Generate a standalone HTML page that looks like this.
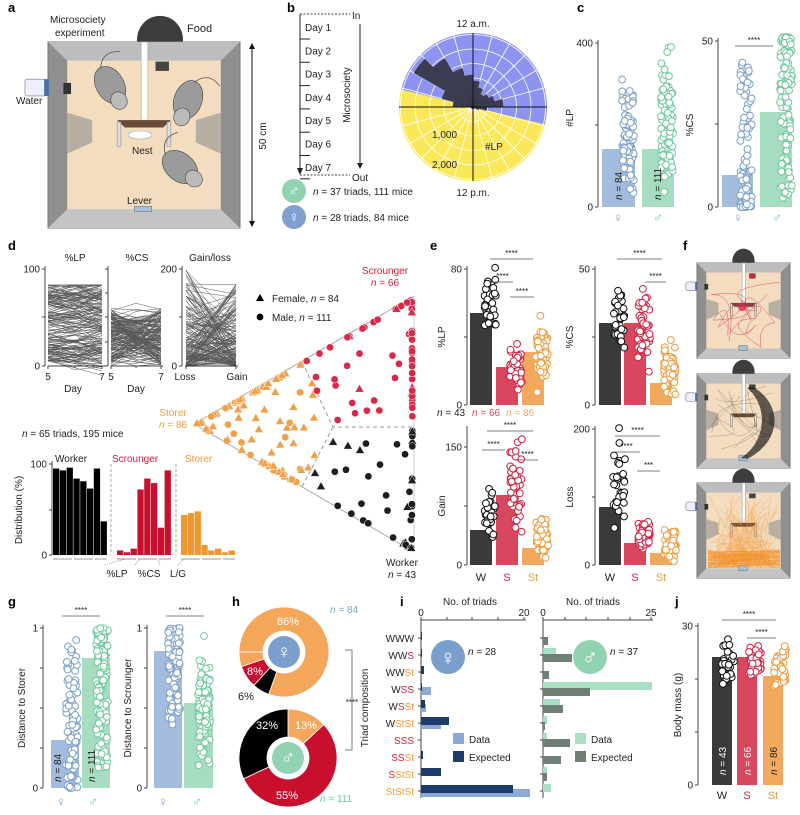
<!DOCTYPE html>
<html><head><meta charset="utf-8"><style>
html,body{margin:0;padding:0;background:#fff;}
svg{display:block;font-family:"Liberation Sans",sans-serif;}
</style></head><body>
<svg id="s" width="800" height="815" viewBox="0 0 800 815">
</svg>
<script>
const S=document.getElementById('s');const NS='http://www.w3.org/2000/svg';
function E(t,a,p){const e=document.createElementNS(NS,t);for(const k in a)e.setAttribute(k,a[k]);(p||S).appendChild(e);return e;}
function T(x,y,s,o){o=o||{};const e=E('text',Object.assign({x:x,y:y,'font-size':o.fs||10,fill:o.c||'#222','text-anchor':o.a||'start'},o.rot?{transform:'rotate('+o.rot+' '+x+' '+y+')'}:{} ,o.fw?{'font-weight':o.fw}:{},o.fi?{'font-style':'italic'}:{}));e.textContent=s;return e;}
function TH(x,y,html,o){o=o||{};const e=E('text',Object.assign({x:x,y:y,'font-size':o.fs||10,fill:o.c||'#222','text-anchor':o.a||'start'},o.rot?{transform:'rotate('+o.rot+' '+x+' '+y+')'}:{}));e.innerHTML=html;return e;}
let seed=7;function R(){seed=(seed*16807)%2147483647;return seed/2147483647;}
function Rn(){return (R()+R()+R())/3;}
function line(x1,y1,x2,y2,c,w,extra){return E('line',Object.assign({x1,y1,x2,y2,stroke:c||'#333','stroke-width':w||1},extra||{}));}
const BL='#7b9fcc',BLb='#a3bbdc',GR='#6fc89c',GRb='#a6dcc0',RD='#d0213f',RDb='#d9475f',OR='#f09a3e',ORb='#f2a95e',BK='#3a3a3a';
[['a',8,12],['b',287,12],['c',577,12],['d',8,250],['e',430,250],['f',683,250],['g',8,606],['h',232,606],['i',400,606],['j',675,606]].forEach(l=>T(l[1],l[2],l[0],{fs:13,fw:'bold',c:'#000'}));

function arena(x,y,w,h,dome,dx){
  dx=dx||0;
  if(dome){E('ellipse',{cx:x+w/2+dx,cy:y-2,rx:w*0.12,ry:h*0.13,fill:'#3d3d3d'});}
  E('rect',{x:x,y:y,width:w,height:h,fill:'#8f8f8f',stroke:'#777','stroke-width':1});
  const i=w*0.1,j=h*0.1;
  E('polygon',{points:`${x},${y} ${x+w},${y} ${x+w-i},${y+j} ${x+i},${y+j}`,fill:'#bdbdbd'});
  E('polygon',{points:`${x},${y+h} ${x+w},${y+h} ${x+w-i},${y+h-j} ${x+i},${y+h-j}`,fill:'#c4c4c4'});
  E('rect',{x:x+i,y:y+j,width:w-2*i,height:h-2*j,fill:'#f3dcbf'});
  E('polygon',{points:`${x+i},${y+h*0.38} ${x+w*0.23},${y+h*0.42} ${x+w*0.23},${y+h*0.54} ${x+i},${y+h*0.6}`,fill:'#a9a29a',opacity:0.8});
  E('polygon',{points:`${x+w-i},${y+h*0.38} ${x+w*0.77},${y+h*0.42} ${x+w*0.77},${y+h*0.54} ${x+w-i},${y+h*0.6}`,fill:'#a9a29a',opacity:0.8});
  E('rect',{x:x+w*0.485,y:y,width:w*0.035,height:h*0.42,fill:'#fff',stroke:'#999','stroke-width':0.5});
  E('rect',{x:x+w*0.56,y:y+j+1,width:w*0.07,height:h*0.05,fill:'#444'});
  E('polygon',{points:`${x+w*0.36},${y+h*0.42} ${x+w*0.64},${y+h*0.42} ${x+w*0.6},${y+h*0.46} ${x+w*0.4},${y+h*0.46}`,fill:'#6b4a3a'});
  E('rect',{x:x+w*0.36,y:y+h*0.43,width:w*0.02,height:h*0.13,fill:'#ddd',stroke:'#666','stroke-width':0.4});
  E('rect',{x:x+w*0.62,y:y+h*0.43,width:w*0.02,height:h*0.13,fill:'#ddd',stroke:'#666','stroke-width':0.4});
  E('rect',{x:x+w*0.45,y:y+h-j-3,width:w*0.09,height:5,fill:'#a9c2d3',stroke:'#667','stroke-width':0.5});
  E('rect',{x:x-w*0.12,y:y+h*0.2,width:w*0.11,height:h*0.09,fill:'#eef',stroke:'#777','stroke-width':0.6,rx:2});
  E('rect',{x:x-w*0.02,y:y+h*0.2,width:w*0.025,height:h*0.09,fill:'#4a6fa8'});
  E('rect',{x:x+w*0.08,y:y+h*0.22,width:w*0.04,height:h*0.06,fill:'#333'});
}
arena(48,42,192,186,true,16);
function mouse(cx,cy,ang){const g=E('g',{transform:`rotate(${ang} ${cx} ${cy})`});E('ellipse',{cx:cx,cy:cy,rx:20,ry:14,fill:'#9b9b9b',stroke:'#444','stroke-width':0.6},g);E('ellipse',{cx:cx-18,cy:cy,rx:9,ry:8,fill:'#bbb',stroke:'#444','stroke-width':0.6},g);E('path',{d:`M${cx+19} ${cy} q15 10 5 25`,fill:'none',stroke:'#555','stroke-width':0.8},g);}
mouse(110,85,-120);mouse(188,100,-70);mouse(180,167,-140);
E('ellipse',{cx:140,cy:135,rx:12,ry:4,fill:'#fff',stroke:'#9ab','stroke-width':0.6});
T(50,23,'Microsociety',{fs:10});T(55,36,'experiment',{fs:10});T(187,32,'Food',{fs:11});T(16,104,'Water',{fs:10});
T(132,154,'Nest',{fs:10});T(127,204,'Lever',{fs:10});
line(252,44,252,226,'#111',1);E('polygon',{points:'249,49 255,49 252,43',fill:'#111'});E('polygon',{points:'249,221 255,221 252,227',fill:'#111'});
T(266,136,'50 cm',{fs:10,a:'middle',rot:-90});
line(300,14,300,172,'#222',1);E('polygon',{points:'297,168 303,168 300,175',fill:'#222'});
line(300,14,350,14,'#444',1,{'stroke-dasharray':'2,1.5'});line(300,175,350,175,'#444',1,{'stroke-dasharray':'2,1.5'});
for(let k=0;k<7;k++){line(300,39+k*23.3,310,39+k*23.3,'#222',1);T(305,31+k*23.3,'Day '+(k+1),{fs:10});}
T(352,19,'In',{fs:10});T(352,181,'Out',{fs:10});
line(360,24,360,166,'#222',1);E('polygon',{points:'357,163 363,163 360,169',fill:'#222'});
T(350,95,'Microsociety',{fs:10,a:'middle',rot:-90});
E('circle',{cx:294,cy:191,r:12,fill:'#8fd3b0'});T(294,196,'♂',{fs:15,c:'#fff',a:'middle'});
E('circle',{cx:294,cy:217,r:12,fill:'#7f9fcf'});T(294,222,'♀',{fs:15,c:'#fff',a:'middle'});
TH(313,195,'<tspan font-style="italic">n</tspan> = 37 triads, 111 mice',{fs:10});
TH(313,221,'<tspan font-style="italic">n</tspan> = 28 triads, 84 mice',{fs:10});
(function(){const cx=473,cy=107,r=74,t=13.7*Math.PI/180;
 E('circle',{cx,cy,r,fill:'#fbe85a'});
 const lx=cx-r*Math.cos(t),ly=cy-r*Math.sin(t),rx=cx+r*Math.cos(t),ry=cy+r*Math.sin(t);
 E('path',{d:`M${lx} ${ly} A${r} ${r} 0 0 1 ${rx} ${ry} Z`,fill:'#8c93f0'});
 for(let k=1;k<=5;k++)E('circle',{cx,cy,r:k*14.5,fill:'none',stroke:'#fff','stroke-width':0.8});
 for(let k=0;k<24;k++){const a=k*15*Math.PI/180;line(cx,cy,cx+r*Math.sin(a),cy-r*Math.cos(a),'#fff',0.8);}
 const L={'-82.5':20,'-67.5':32,'-52.5':68,'-37.5':56,'-22.5':40,'-7.5':32,'7.5':26,'22.5':20,'37.5':15,'52.5':18,'67.5':22,'82.5':30,'97.5':14,'112.5':6};
 for(let k=0;k<24;k++){const c=-172.5+k*15;const l=L[c.toFixed(1)]||2;const a=(c-7.5)*Math.PI/180,b=(c+7.5)*Math.PI/180;
  E('path',{d:`M${cx} ${cy} L${cx+l*Math.sin(a)} ${cy-l*Math.cos(a)} A${l} ${l} 0 0 1 ${cx+l*Math.sin(b)} ${cy-l*Math.cos(b)} Z`,fill:'#3c3d52',stroke:'#222','stroke-width':0.3});}
 line(cx-r,cy,cx+r,cy,'#111',1);line(cx,cy-r,cx,cy+r,'#111',1);
})();
T(473,27,'12 a.m.',{fs:10,a:'middle'});T(473,196,'12 p.m.',{fs:10,a:'middle'});
T(432,138,'1,000',{fs:10});T(432,168,'2,000',{fs:10});T(485,150,'#LP',{fs:10});

function axisY(x,y0,y1,ticks,labels,fs){line(x,y1-3,x,y0,'#444',1);ticks.forEach((t,i)=>{line(x-3,t,x,t,'#444',1);if(labels[i]!=='')T(x-5,t+3.5,labels[i],{fs:fs||10,a:'end'});});}
function bar(x,w,top,y0,col){E('rect',{x:x,y:top,width:w,height:y0-top,fill:col});line(x+w-4,top-3,x+w,top-3,'#333',0.8);line(x+w-2,top-3,x+w-2,top,'#333',0.8);}
function dots(cx,sp,y1,y2,n,col,bias){for(let k=0;k<n;k++){let u=bias==='hi'?Math.pow(R(),1.6):bias==='lo'?1-Math.pow(R(),1.6):Rn();E('circle',{cx:cx+(R()-.5)*sp,cy:y1+u*(y2-y1),r:3.4,fill:'#fff',stroke:col,'stroke-width':1});}}
function stars(x1,x2,y,s){line(x1,y,x2,y,'#555',0.8);T((x1+x2)/2,y-3,s||'****',{fs:8,a:'middle'});}
axisY(598,207,43,[43,125,207],['400','','0']);
bar(602,33,149,207,BLb);bar(642,32,149,207,GRb);
dots(628,12,67,205,84,BL);dots(667,12,37,205,111,GR);
TH(622,200,'<tspan font-style="italic">n</tspan> = 84',{rot:-90});TH(661,200,'<tspan font-style="italic">n</tspan> = 111',{rot:-90});
T(573,118,'#LP',{a:'middle',rot:-90});
T(618,222,'♀',{fs:13,c:BL,a:'middle'});T(658,222,'♂',{fs:13,c:GR,a:'middle'});
axisY(718,207,41,[41,124,207],['50','','0']);
bar(722,31,175,207,BLb);bar(760,32,112,207,GRb);
dots(746,12,58,207,84,BL,'lo');dots(786,12,37,200,111,GR,'hi');
stars(735,773,46);T(693,125,'%CS',{a:'middle',rot:-90});
T(738,222,'♀',{fs:13,c:BL,a:'middle'});T(777,222,'♂',{fs:13,c:GR,a:'middle'});

T(75,261,'%LP',{a:'middle'});T(137,261,'%CS',{a:'middle'});T(210,261,'Gain/loss',{a:'middle'});
axisY(45,366,269,[269,317,366],['100','','0']);
axisY(108,366,269,[269,293,317,342,366],['','','','','']);
axisY(182,366,269,[269,317,366],['200','','0']);
line(48,366,105,366,'#444',1);line(48,366,48,369,'#444');line(102,366,102,369,'#444');line(75,366,75,368,'#444');
line(111,366,163,366,'#444',1);line(111,366,111,369,'#444');line(161,366,161,369,'#444');line(136,366,136,368,'#444');
line(185,366,238,366,'#444',1);line(186,366,186,369,'#444');line(236,366,236,369,'#444');
T(48,380,'5',{a:'middle'});T(102,380,'7',{a:'middle'});T(111,380,'5',{a:'middle'});T(161,380,'7',{a:'middle'});
T(73,392,'Day',{a:'middle'});T(136,392,'Day',{a:'middle'});T(185,380,'Loss',{a:'middle'});T(237,380,'Gain',{a:'middle'});
const gl=E('g',{stroke:'#111','stroke-width':0.5,opacity:0.7,fill:'none'});
for(let k=0;k<170;k++){let a=366-97*(0.05+0.8*Math.pow(R(),1.3)),b=a+(R()-.5)*30,c=a+(R()-.5)*20;a=Math.max(285,a);E('polyline',{points:`48,${a} 75,${Math.max(285,c)} 102,${Math.max(285,b)}`},gl);}
for(let k=0;k<170;k++){let a=366-97*(0.6*R()),b=366-97*(0.6*R()),c=(a+b)/2+(R()-.5)*15;E('polyline',{points:`111,${a} 136,${Math.min(366,c)} 161,${b}`},gl);}
for(let k=0;k<170;k++){let a=366-97*Math.pow(R(),2.2),b=366-97*0.85*Math.pow(R(),2.2);E('polyline',{points:`186,${a} 236,${b}`},gl);}
line(194,424,414,296,'#aaa',1);line(194,424,414,552,'#aaa',1);line(414,296,414,552,'#ccc',1);
E('polyline',{points:'302,362 333,427 414,427',fill:'none',stroke:'#999','stroke-width':1,'stroke-dasharray':'4,3'});line(333,427,302,487,'#999',1,{'stroke-dasharray':'4,3'});
function quad(A,B,C,D,u,v){return [(1-u)*(1-v)*A[0]+u*(1-v)*B[0]+u*v*C[0]+(1-u)*v*D[0],(1-u)*(1-v)*A[1]+u*(1-v)*B[1]+u*v*C[1]+(1-u)*v*D[1]];}
function mark(p,col,tri){if(tri){const s=4.5;E('polygon',{points:`${p[0]},${p[1]-s} ${p[0]-s},${p[1]+s*0.75} ${p[0]+s},${p[1]+s*0.75}`,fill:col,stroke:'#fff','stroke-width':0.5});}else E('circle',{cx:p[0],cy:p[1],r:3.6,fill:col,stroke:'#fff','stroke-width':0.5});}
function region(A,B,C,D,n,col,pf,e1,e2){for(let k=0;k<n;k++){let r=R(),u,v;if(r<e1){u=R();v=0.02;}else if(r<e1+e2){u=0.02;v=R();}else{u=R();v=R();}const tri=R()<pf;mark(quad(A,B,C,D,u,v),col,tri);}}
region([194,424],[302,362],[333,427],[302,487],86,'#f0a04b',0.8,0.35,0.3);
region([414,296],[414,427],[333,427],[302,362],66,'#d8294a',0.15,0.35,0.3);
region([414,552],[414,427],[333,427],[302,487],43,'#1e1e1e',0.25,0.3,0.25);
mark([260,298],'#000',true);TH(272,302,'Female, <tspan font-style="italic">n</tspan> = 84',{fs:10});
mark([260,317],'#000',false);TH(272,321,'Male, <tspan font-style="italic">n</tspan> = 111',{fs:10});
T(385,274,'Scrounger',{fs:10,c:RD,a:'middle'});TH(385,286,'<tspan font-style="italic">n</tspan> = 66',{fs:10,c:RD,a:'middle'});
T(173,416,'Storer',{fs:10,c:OR,a:'middle'});TH(173,428,'<tspan font-style="italic">n</tspan> = 86',{fs:10,c:OR,a:'middle'});
T(402,566,'Worker',{fs:10,a:'middle'});TH(402,578,'<tspan font-style="italic">n</tspan> = 43',{fs:10,a:'middle'});
TH(22,437,'<tspan font-style="italic">n</tspan> = 65 triads, 195 mice',{fs:10});
axisY(52,555,464,[464,510,555],['100','','0']);
T(22,510,'Distribution (%)',{a:'middle',rot:-90});
T(55,462,'Worker',{fs:10});T(112,462,'Scrounger',{fs:10,c:RD});T(185,462,'Storer',{fs:10,c:OR});
const dist=[[53,[95,93,96,84,81,73,95,37],'#000'],[117,[5,3,7,72,84,79,30,93],'#c8102e'],[181,[44,46,48,11,5,7,3,5],'#f0972e']];
dist.forEach(d=>{d[1].forEach((v,i)=>{E('rect',{x:d[0]+i*6.8,y:555-v*0.91,width:6.3,height:v*0.91,fill:d[2]});});
 line(d[0],559,d[0]+19,559,'#999',1);line(d[0]+21,559,d[0]+40,559,'#999',1);line(d[0]+42,559,d[0]+54,559,'#999',1);});
line(111,464,111,555,'#aaa',1,{'stroke-dasharray':'3,2'});line(176,464,176,555,'#aaa',1,{'stroke-dasharray':'3,2'});
line(105,565,125,559,'#666',0.6,{'stroke-dasharray':'1,1'});line(135,565,140,559,'#666',0.6,{'stroke-dasharray':'1,1'});line(160,565,158,559,'#666',0.6,{'stroke-dasharray':'1,1'});line(178,565,184,559,'#666',0.6,{'stroke-dasharray':'1,1'});
T(117,577,'%LP',{a:'middle'});T(149,577,'%CS',{a:'middle'});T(178,577,'L/G',{a:'middle'});

function eplot(ax,y0,ytop,labs,title,bars,dd,st,xl){
 axisY(ax,y0,ytop,[ytop,(ytop+y0)/2,y0],labs);
 T(ax-22,(ytop+y0)/2,title,{a:'middle',rot:-90});
 const cols=[BK,RDb,ORb],dc=['#111',RD,OR];
 bars.forEach((b,i)=>{bar(b[0],22,b[1],y0,cols[i]);});
 dd.forEach((d,i)=>dots(bars[i][0]+20,12,d[0],d[1],[43,66,86][i]/1.4|0,dc[i]));
 st.forEach(s=>stars(s[0],s[1],s[2],s[3]));
 if(xl){T(bars[0][0]+11,581,'W',{a:'middle',fs:11});T(bars[1][0]+11,581,'S',{a:'middle',fs:11,c:RD});T(bars[2][0]+11,581,'St',{a:'middle',fs:11,c:OR});}
}
eplot(467,405,269,['80','','0'],'%LP',[[470,313],[496,367],[522,352]],[[262,343],[333,400],[308,398]],[[490,533,259],[492,513,282],[510,534,297]]);
eplot(595,405,269,['50','','0'],'%CS',[[599,323],[624,323],[650,383]],[[280,362],[263,383],[330,405]],[[617,662,259],[645,666,282]]);
TH(437,416,'<tspan font-style="italic">n</tspan> = 43',{fs:10});TH(472,416,'<tspan font-style="italic">n</tspan> = 66',{fs:10,c:RDb});TH(506,416,'<tspan font-style="italic">n</tspan> = 86',{fs:10,c:ORb});
eplot(467,565,447,['150','','0'],'Gain',[[470,530],[496,495],[522,548]],[[477,555],[423,540],[510,565]],[[487,533,431],[482,505,450],[517,538,460]],true);
line(467,426,467,447,'#444',1);
eplot(595,565,429,['200','','0'],'Loss',[[599,507],[624,543],[650,553]],[[423,545],[517,556],[522,565]],[[615,660,436],[613,640,452],[637,660,471,'***']],true);
arena(697,263,93,95,true);arena(697,374,93,94,true);arena(697,483,93,95,true);
function trace(col,n,pts,w,op){const g=E('g',{stroke:col,fill:'none','stroke-width':w,opacity:op});for(let k=0;k<n;k++){E('path',{d:pts(k)},g);}}
trace('#d8294a',5,k=>{let d=`M${740+R()*10} ${305+R()*6}`;for(let j=0;j<3;j++){d+=` Q${710+R()*70} ${275+R()*75} ${710+R()*70} ${275+R()*75}`;}return d;},0.5,0.8);
E('circle',{cx:742,cy:307,r:4,fill:'#d8294a',opacity:0.8});E('circle',{cx:752,cy:276,r:3,fill:'#d8294a',opacity:0.8});
trace('#000',140,k=>{const o=(R()-.5)*14;return `M${751+o/2} ${388} C${775+o} ${405} ${775+o} ${440} ${745+o/2} ${458}`;},0.5,0.6);
trace('#000',15,k=>{let d=`M${708+R()*70} ${385+R()*70}`;d+=` Q${708+R()*70} ${385+R()*70} ${708+R()*70} ${385+R()*70}`;return d;},0.3,0.5);
trace('#f08a1e',110,k=>{let x=708+R()*72;let d=`M${x} ${568}`;d+=` Q${708+R()*72} ${520+R()*40} ${708+R()*72} ${495+R()*70}`;return d;},0.4,0.6);
trace('#f08a1e',60,k=>`M708 ${550+R()*18} L780 ${550+R()*18}`,0.5,0.7);

axisY(43,788,628,[628,668,708,748,788],['1','','','','0']);
bar(51,28,740,788,BLb);bar(82,28,658,788,GRb);
dots(72,12,628,788,84,BL,'lo');dots(102,12,628,768,111,GR,'hi');
stars(62,100,616);T(25,708,'Distance to Storer',{a:'middle',rot:-90});
TH(61,782,'<tspan font-style="italic">n</tspan> = 84',{rot:-90});TH(95,782,'<tspan font-style="italic">n</tspan> = 111',{rot:-90});
T(61,806,'♀',{fs:13,c:BL,a:'middle'});T(93,806,'♂',{fs:13,c:GR,a:'middle'});
axisY(147,788,628,[628,668,708,748,788],['1','','','','0']);
bar(154,28,651,788,BLb);bar(184,29,703,788,GRb);
dots(174,12,628,725,84,BL,'hi');dots(204,12,628,788,111,GR);
stars(166,204,616);T(131,708,'Distance to Scrounger',{a:'middle',rot:-90});
T(163,806,'♀',{fs:13,c:BL,a:'middle'});T(197,806,'♂',{fs:13,c:GR,a:'middle'});
function donut(cx,cy,ro,ri,segs,ic,sym){segs.forEach(s=>{const a=s[0]*Math.PI/180,b=s[1]*Math.PI/180,lg=(s[1]-s[0])>180?1:0;
 E('path',{d:`M${cx+ro*Math.sin(a)} ${cy-ro*Math.cos(a)} A${ro} ${ro} 0 ${lg} 1 ${cx+ro*Math.sin(b)} ${cy-ro*Math.cos(b)} L${cx+ri*Math.sin(b)} ${cy-ri*Math.cos(b)} A${ri} ${ri} 0 ${lg} 0 ${cx+ri*Math.sin(a)} ${cy-ri*Math.cos(a)} Z`,fill:s[2],stroke:'#fff','stroke-width':0.8});});
 E('circle',{cx,cy,r:ri-5,fill:ic});T(cx,cy+6,sym,{fs:19,c:'#fff',a:'middle'});}
donut(284,652,45,21,[[-90,200,'#f4a65a'],[200,222,'#000'],[222,251,'#c8102e'],[251,270,'#f4a65a']],'#7b9fcc','♀');
donut(288,758,49,21,[[0,47,'#f4a65a'],[47,245,'#c8102e'],[245,360,'#000']],'#8fd3b0','♂');
T(288,625,'86%',{fs:11,c:'#fff',a:'middle'});T(255,675,'8%',{fs:11,c:'#fff',a:'middle'});T(246,700,'6%',{fs:11,a:'middle'});
T(267,729,'32%',{fs:11,c:'#fff',a:'middle'});T(306,729,'13%',{fs:11,c:'#fff',a:'middle'});T(287,799,'55%',{fs:11,c:'#fff',a:'middle'});
TH(330,613,'<tspan font-style="italic">n</tspan> = 84',{fs:10,c:BL});TH(320,802,'<tspan font-style="italic">n</tspan> = 111',{fs:10,c:GR});
E('polyline',{points:'345,650 352,650 352,750 345,750',fill:'none',stroke:'#555','stroke-width':0.8});T(352,705,'****',{fs:8,a:'middle'});
const rows=[['W','W','W'],['W','W','S'],['W','W','St'],['W','S','S'],['W','S','St'],['W','St','St'],['S','S','S'],['S','S','St'],['S','St','St'],['St','St','St']];
const rc={W:'#222',S:RD,St:OR};const ry=[638,655,672,689,706,723,740,757,774,791];
T(368,708,'Triad composition',{a:'middle',rot:-90});
rows.forEach((r,i)=>{TH(414,ry[i]+4,r.map(l=>`<tspan fill="${rc[l]}">${l}</tspan>`).join(''),{fs:10,a:'end'});});
T(470,605,'No. of triads',{a:'middle'});T(593,605,'No. of triads',{a:'middle'});
line(421,620,421,798,'#444',1);line(421,620,526,620,'#444',1);[421,447,472,498,524].forEach(x=>line(x,617,x,620,'#444',1));
T(421,616,'0',{a:'middle'});T(524,616,'20',{a:'middle'});
line(543,620,543,798,'#444',1);line(543,620,653,620,'#444',1);[543,565,586,608,630,651].forEach(x=>line(x,617,x,620,'#444',1));
T(543,616,'0',{a:'middle'});T(651,616,'25',{a:'middle'});
ry.forEach(y=>{line(418,y,421,y,'#444');line(540,y,543,y,'#444');});
const fD=[0,0,0,10,5,20,0,0,0,109],fE=[1,1,3,1,4,28,0,2,20,92];
const mD=[0,13,0,109,17,4,4,0,4,8],mE=[5,29,6,47,20,2,27,18,4,0];
ry.forEach((y,i)=>{if(fD[i])E('rect',{x:421,y:y-2,width:fD[i],height:8,fill:'#8aa9d6'});if(fE[i])E('rect',{x:421,y:y-6,width:fE[i],height:8,fill:'#1c3d6b'});
 if(mD[i])E('rect',{x:543,y:y-7,width:mD[i],height:8,fill:'#a8e0c4'});if(mE[i])E('rect',{x:543,y:y-1,width:mE[i],height:8,fill:'#6f7f76'});});
E('circle',{cx:448,cy:657,r:17,fill:'#7b9fcc'});T(448,665,'♀',{fs:22,c:'#fff',a:'middle'});TH(468,655,'<tspan font-style="italic">n</tspan> = 28',{fs:10});
E('circle',{cx:590,cy:657,r:17,fill:'#8fd3b0'});T(590,665,'♂',{fs:22,c:'#fff',a:'middle'});TH(610,655,'<tspan font-style="italic">n</tspan> = 37',{fs:10});
E('rect',{x:453,y:733,width:11,height:11,fill:'#8aa9d6'});T(469,743,'Data',{fs:10});
E('rect',{x:453,y:751,width:11,height:11,fill:'#1c3d6b'});T(469,761,'Expected',{fs:10});
E('rect',{x:575,y:733,width:11,height:11,fill:'#a8e0c4'});T(591,743,'Data',{fs:10});
E('rect',{x:575,y:751,width:11,height:11,fill:'#6f7f76'});T(591,761,'Expected',{fs:10});
axisY(698,785,626,[626,679,732,785],['30','','','0']);
bar(712,20,657,785,BK);bar(737,20,657,785,RDb);bar(763,20,676,785,ORb);
dots(728,12,628,693,30,'#111');dots(755,12,635,685,40,RD);dots(780,12,640,697,50,OR);
stars(722,776,620);stars(747,776,638);
T(681,705,'Body mass (g)',{a:'middle',rot:-90});
TH(726,775,'<tspan font-style="italic">n</tspan> = 43',{fs:10,c:'#fff',rot:-90});TH(751,775,'<tspan font-style="italic">n</tspan> = 66',{fs:10,c:'#fff',rot:-90});TH(777,775,'<tspan font-style="italic">n</tspan> = 86',{fs:10,rot:-90});
T(722,799,'W',{a:'middle',fs:11});T(747,799,'S',{a:'middle',fs:11,c:RD});T(773,799,'St',{a:'middle',fs:11,c:OR});
</script>
</body></html>
